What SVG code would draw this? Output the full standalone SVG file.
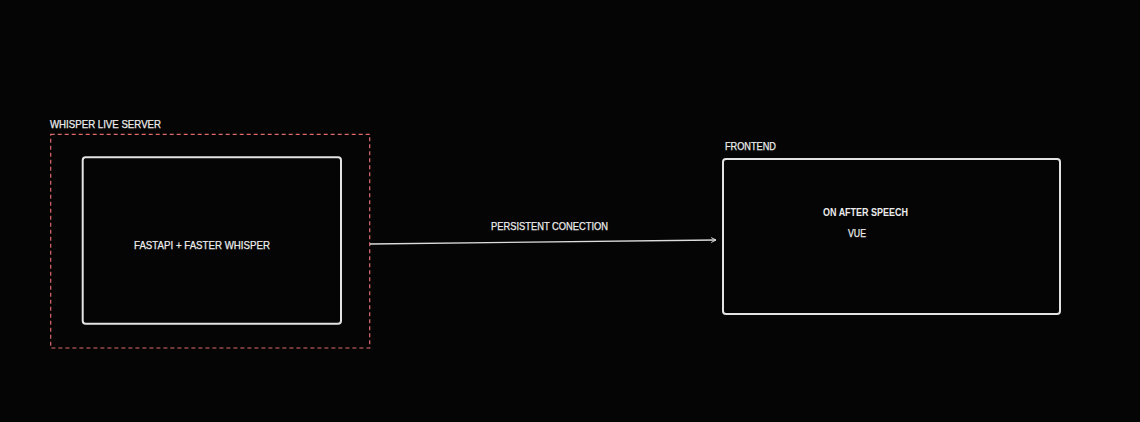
<svg xmlns="http://www.w3.org/2000/svg" width="1140" height="422" viewBox="0 0 1140 422">
<defs>
<style>
.t{font-family:"Liberation Sans",Arial,sans-serif;font-size:10.5px;fill:#ececec;stroke:#ececec;stroke-width:0.25;}
.b{font-weight:bold;stroke-width:0;}
.box{fill:none;stroke:#e3e3e3;stroke-width:2;}
.grp{fill:none;stroke:#e06a6a;stroke-width:1.2;stroke-dasharray:4 3;}
.conn{fill:none;stroke:#dcdcdc;stroke-width:1.3;}
</style>
<marker id="ah" viewBox="0 0 10 10" refX="9" refY="5" markerWidth="6" markerHeight="6" orient="auto" markerUnits="userSpaceOnUse">
<path d="M1,1 L9,5 L1,9" fill="none" stroke="#dcdcdc" stroke-width="1.6"/>
</marker>
</defs>
<rect width="1140" height="422" fill="#050505"/>
<g id="whisper-live-server">
<rect class="grp" x="50.7" y="134.3" width="319" height="213.7"/>
<text class="t" x="50" y="127.5" textLength="111" lengthAdjust="spacingAndGlyphs">WHISPER LIVE SERVER</text>
</g>
<g id="fastapi">
<rect class="box" x="82.7" y="157.3" width="258.3" height="166.4" rx="3"/>
<text class="t" x="134" y="248.5" textLength="136" lengthAdjust="spacingAndGlyphs">FASTAPI + FASTER WHISPER</text>
</g>
<g id="frontend">
<text class="t" x="725" y="149.5" textLength="51" lengthAdjust="spacingAndGlyphs">FRONTEND</text>
<rect class="box" x="723" y="159" width="337" height="155" rx="3"/>
<text class="t b" x="823" y="216" textLength="85" lengthAdjust="spacingAndGlyphs">ON AFTER SPEECH</text>
<text class="t" x="848" y="237" textLength="18" lengthAdjust="spacingAndGlyphs">VUE</text>
</g>
<g id="connectors">
<path class="conn" d="M370,244 L716,240" marker-end="url(#ah)"/>
<text class="t" x="491" y="230" textLength="117" lengthAdjust="spacingAndGlyphs">PERSISTENT CONECTION</text>
</g>
</svg>
